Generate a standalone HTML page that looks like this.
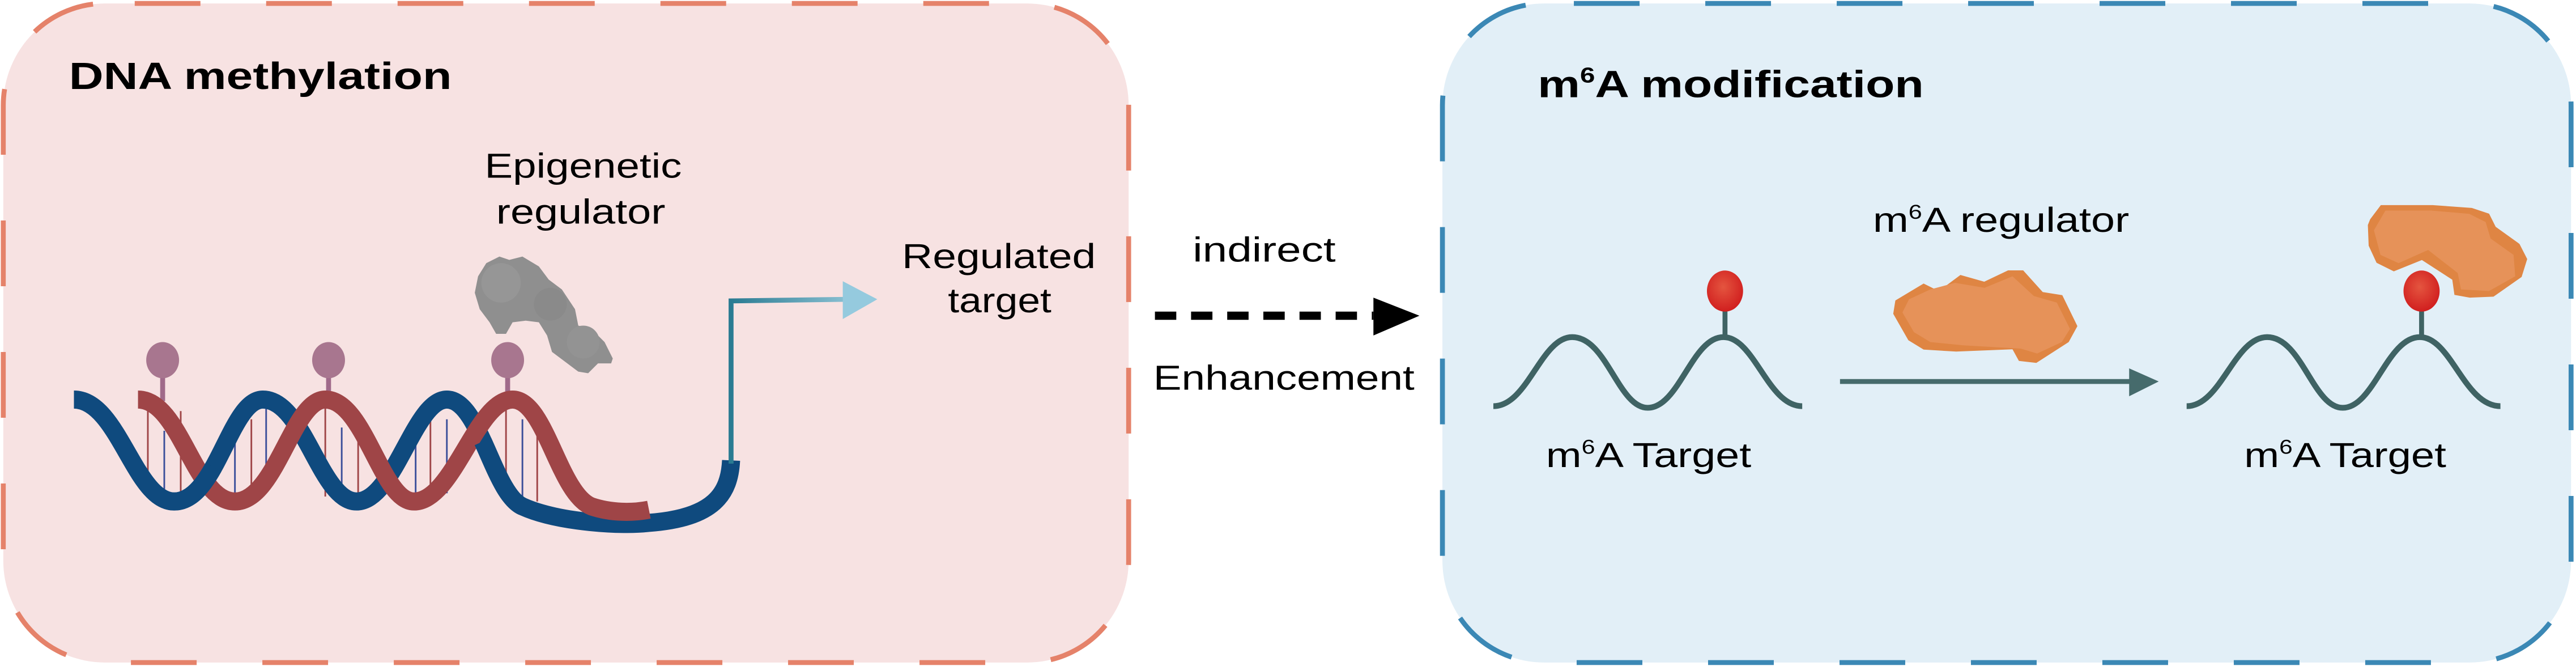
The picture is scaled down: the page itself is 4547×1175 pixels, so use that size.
<!DOCTYPE html>
<html><head><meta charset="utf-8"><style>html,body{margin:0;padding:0;background:#fff}svg{display:block}</style></head>
<body>
<svg width="4547" height="1175" viewBox="0 0 1568 405" xmlns="http://www.w3.org/2000/svg" font-family="'Liberation Sans', Arial, sans-serif">
<defs>
<linearGradient id="tg" x1="445" y1="0" x2="535" y2="0" gradientUnits="userSpaceOnUse">
<stop offset="0" stop-color="#2a7b92"/><stop offset="1" stop-color="#a3d2e3"/></linearGradient>
<radialGradient id="rg" cx="0.45" cy="0.4" r="0.6"><stop offset="0" stop-color="#e4553f"/><stop offset="1" stop-color="#d11f1f"/></radialGradient>
</defs>
<!-- boxes -->
<rect x="2" y="2" width="685" height="401" rx="62" fill="#f7e2e2" stroke="#e5826a" stroke-width="3" stroke-dasharray="40 40" stroke-dashoffset="-18"/>
<rect x="878" y="2" width="687" height="401" rx="62" fill="#e2eff7" stroke="#3b88b5" stroke-width="3" stroke-dasharray="40 40" stroke-dashoffset="-18"/>

<!-- titles -->
<text x="42" y="54" font-size="23" font-weight="bold" textLength="233" lengthAdjust="spacingAndGlyphs">DNA methylation</text>
<text x="936" y="59" font-size="23" font-weight="bold" textLength="235" lengthAdjust="spacingAndGlyphs">m<tspan font-size="13" dy="-9">6</tspan><tspan dy="9">A modification</tspan></text>

<!-- left labels -->
<text x="295" y="108" font-size="21" textLength="120" lengthAdjust="spacingAndGlyphs">Epigenetic</text>
<text x="302" y="136" font-size="21" textLength="103" lengthAdjust="spacingAndGlyphs">regulator</text>
<text x="549" y="163" font-size="21" textLength="118" lengthAdjust="spacingAndGlyphs">Regulated</text>
<text x="577" y="190" font-size="21" textLength="63" lengthAdjust="spacingAndGlyphs">target</text>

<!-- gray blob -->
<path d="M296,160 L304,156 L310,158 L318,156 L328,162 L334,170 L342,176 L350,188 L352,198 L360,200 L368,208 L373,218 L372,221 L364,221 L358,227 L352,226 L344,220 L336,214 L333,204 L328,196 L320,195 L312,196 L308,203 L302,203 L298,196 L292,188 L289,178 L291,168 Z" fill="#8f8f8f"/>
<circle cx="305" cy="172" r="12" fill="#969696"/><circle cx="335" cy="185" r="10" fill="#8a8a8a"/><circle cx="355" cy="208" r="10" fill="#939393"/>

<!-- rungs -->
<g stroke-width="1">
<line x1="90" y1="248" x2="90" y2="300" stroke="#9f4547"/><line x1="100" y1="262" x2="100" y2="304" stroke="#3b4f9a"/>
<line x1="110" y1="250" x2="110" y2="300" stroke="#9f4547"/><line x1="143" y1="262" x2="143" y2="300" stroke="#3b4f9a"/>
<line x1="153" y1="255" x2="153" y2="305" stroke="#9f4547"/><line x1="162" y1="248" x2="162" y2="298" stroke="#3b4f9a"/>
<line x1="198" y1="246" x2="198" y2="302" stroke="#9f4547"/><line x1="208" y1="260" x2="208" y2="306" stroke="#3b4f9a"/>
<line x1="218" y1="250" x2="218" y2="300" stroke="#9f4547"/><line x1="253" y1="262" x2="253" y2="300" stroke="#3b4f9a"/>
<line x1="262" y1="250" x2="262" y2="302" stroke="#9f4547"/><line x1="272" y1="255" x2="272" y2="300" stroke="#3b4f9a"/>
<line x1="308" y1="246" x2="308" y2="302" stroke="#9f4547"/><line x1="318" y1="255" x2="318" y2="305" stroke="#3b4f9a"/>
<line x1="327" y1="260" x2="327" y2="305" stroke="#9f4547"/>
</g>

<!-- lollipops -->
<g stroke="#a06a8a" stroke-width="3"><line x1="99" y1="225" x2="99" y2="244"/><line x1="200" y1="225" x2="200" y2="244"/><line x1="309" y1="225" x2="309" y2="244"/></g>
<g fill="#a8768f"><ellipse cx="99" cy="219" rx="10" ry="11"/><ellipse cx="200" cy="219" rx="10" ry="11"/><ellipse cx="309" cy="219" rx="10" ry="11"/></g>

<!-- helix -->
<path d="M45,243 C72,243 82,305 106,305 C132,305 140,243 160,243 C185,243 195,305 217,305 C240,305 252,243 272,243 C292,243 300,300 318,308 C340,318 380,320 395,318 C435,315 444,300 445,280" fill="none" stroke="#0f4a7e" stroke-width="11"/>
<path d="M84,243 C110,243 118,305 143,305 C168,305 178,243 198,243 C222,243 232,305 252,305 C276,305 290,243 312,243 C332,243 340,300 360,308 C372,312 385,312 395,310" fill="none" stroke="#9f4547" stroke-width="11"/>
<path d="M45,243 C72,243 82,305 106,305 C132,305 140,243 160,243 C185,243 195,305 217,305 C240,305 252,243 272,243 C292,243 300,300 318,308" fill="none" stroke="#0f4a7e" stroke-width="11" stroke-dasharray="0 62 62 200"/>

<!-- teal arrow -->
<path d="M445,282 L445,183 L516,182" fill="none" stroke="url(#tg)" stroke-width="3"/>
<polygon points="513,171 534,182 513,194" fill="#95cade"/>

<!-- middle -->
<text x="726" y="159" font-size="21" textLength="87" lengthAdjust="spacingAndGlyphs">indirect</text>
<line x1="703" y1="192" x2="836" y2="192" stroke="#000" stroke-width="5" stroke-dasharray="13 9"/>
<polygon points="836,181 864,192 836,204" fill="#000"/>
<text x="702" y="237" font-size="21" textLength="159" lengthAdjust="spacingAndGlyphs">Enhancement</text>

<!-- right: m6A regulator -->
<text x="1140" y="141" font-size="21" textLength="156" lengthAdjust="spacingAndGlyphs">m<tspan font-size="12" dy="-8">6</tspan><tspan dy="8">A regulator</tspan></text>

<!-- waves -->
<path d="M909,247 C930,247 938,205 957,205 C978,205 985,248 1003,248 C1022,248 1030,205 1049,205 C1068,205 1076,247 1097,247" fill="none" stroke="#3f6364" stroke-width="3.5"/>
<line x1="1050" y1="188" x2="1050" y2="205" stroke="#3f6364" stroke-width="3"/>
<ellipse cx="1050" cy="177" rx="11" ry="12.5" fill="url(#rg)"/>

<path d="M1331,247 C1352,247 1360,205 1380,205 C1401,205 1408,248 1426,248 C1445,248 1453,205 1473,205 C1492,205 1500,247 1522,247" fill="none" stroke="#3f6364" stroke-width="3.5"/>
<line x1="1474" y1="188" x2="1474" y2="205" stroke="#3f6364" stroke-width="3"/>
<ellipse cx="1474" cy="177" rx="11" ry="12.5" fill="url(#rg)"/>

<!-- arrow -->
<line x1="1120" y1="232" x2="1305" y2="232" stroke="#466b6c" stroke-width="3"/>
<polygon points="1296,224 1314,232 1296,241" fill="#466b6c"/>

<!-- orange blobs -->
<path d="M1152.4,190.8 L1153.7,182.7 L1170.9,172.4 L1180.1,177 L1193.3,167.2 L1207.8,171.3 L1222.3,164.4 L1231.5,164.4 L1243.4,177.6 L1255.3,179.5 L1264.5,198.3 L1259.2,208 L1239.5,220.7 L1228.9,219.5 L1225,212.4 L1190.7,213.8 L1170.9,212.6 L1161.6,206.9 Z" fill="#df8543"/>
<path d="M1158,190 L1162,182 L1175,176 L1190,172 L1208,175 L1225,168 L1238,180 L1252,184 L1260,200 L1255,208 L1240,215 L1230,212 L1195,210 L1175,208 L1165,202 Z" fill="#e69259"/>
<path d="M1449.2,124.7 L1480.8,124.7 L1504.6,126.4 L1515.1,129.9 L1519.1,137.9 L1533.6,148.3 L1538.3,157.5 L1534.9,168.4 L1517.8,180.4 L1503.3,181 L1494,179.3 L1492.7,170.1 L1474.2,158.1 L1457.1,165 L1446.6,159.8 L1441.8,149.4 L1441.3,136.8 L1442.7,133.3 Z" fill="#df8543"/>
<path d="M1452,128 L1480,128 L1503,130 L1513,135 L1516,145 L1530,155 L1531,168 L1515,177 L1498,176 L1496,166 L1478,152 L1460,160 L1449,155 L1445,140 Z" fill="#e69259"/>

<text x="941" y="284" font-size="21" textLength="125" lengthAdjust="spacingAndGlyphs">m<tspan font-size="12" dy="-8">6</tspan><tspan dy="8">A Target</tspan></text>
<text x="1366" y="284" font-size="21" textLength="123" lengthAdjust="spacingAndGlyphs">m<tspan font-size="12" dy="-8">6</tspan><tspan dy="8">A Target</tspan></text>
</svg>
</body></html>
